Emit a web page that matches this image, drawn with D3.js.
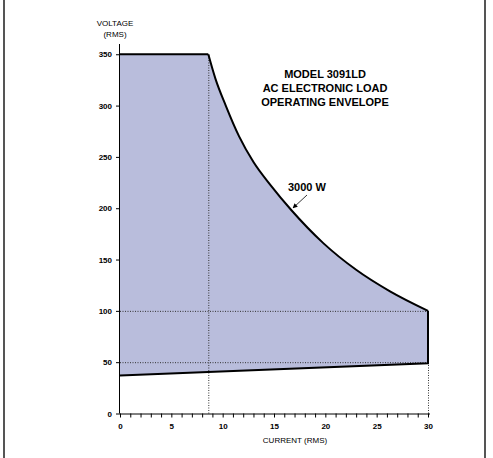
<!doctype html>
<html lang=en>
<head>
<meta charset=utf-8>
<title>Operating Envelope</title>
<script src="https://d3js.org/d3.v7.min.js"></script>
<style>
  body { margin: 0; background: #fff; }
  svg text { font-family: Arial, "Liberation Sans", sans-serif; fill: #000; }
</style>
</head>
<body>
<div id="container"></div>
<script>
    // data (current A rms, voltage V rms)
    var topLimit = [[0, 350], [8.6, 350]];
    var powerCurve = [[8.6, 350], [9.3, 326], [10.3, 300], [11.6, 270], [13.0, 245], [14.7, 222],
                      [16.7, 198], [19.8, 166], [23.0, 140], [26.3, 119], [30, 100]];
    var minVoltage = [[30, 49], [0, 37]];
    var xTicks = [0, 5, 10, 15, 20, 25, 30];
    var yTicks = [0, 50, 100, 150, 200, 250, 300, 350];
    var refVoltages = [50, 100];
    var refCurrents = [8.6, 30];
    var titleLines = ["MODEL 3091LD", "AC ELECTRONIC LOAD", "OPERATING ENVELOPE"];
    var powerLabel = "3000 W";

    var w = 493, h = 458;
    var svg = d3.select("#container").append("svg")
        .attr("width", w).attr("height", h);

    // frame (left and right edges only)
    svg.append("line").attr("x1", 4).attr("x2", 4).attr("y1", 0).attr("y2", h)
        .attr("stroke", "#555").attr("stroke-width", 2);
    svg.append("line").attr("x1", 485).attr("x2", 485).attr("y1", 0).attr("y2", h)
        .attr("stroke", "#555").attr("stroke-width", 2);

    var x = d3.scaleLinear().domain([0, 30]).range([120, 428]);
    var y = d3.scaleLinear().domain([0, 360]).range([413.5, 44]);

    var straight = d3.line().x(function(d) { return x(d[0]); }).y(function(d) { return y(d[1]); });
    var smooth = d3.line().x(function(d) { return x(d[0]); }).y(function(d) { return y(d[1]); })
        .curve(d3.curveMonotoneX);

    // envelope fill: flat top, power curve, current limit, min voltage line
    var fillPath = straight(topLimit) + smooth(powerCurve).replace(/^M/, "L")
        + straight(minVoltage).replace(/^M/, "L") + "Z";
    svg.append("path").attr("d", fillPath).attr("fill", "#b9bddc");

    // dotted reference lines
    var dots = svg.append("g").attr("stroke", "#333").attr("stroke-width", 1)
        .attr("stroke-dasharray", "1,1.5");
    refVoltages.forEach(function(v) {
        dots.append("line").attr("x1", x(0)).attr("x2", x(30))
            .attr("y1", y(v) + 0.5).attr("y2", y(v) + 0.5);
    });
    dots.append("line").attr("x1", x(refCurrents[0]) + 0.5).attr("x2", x(refCurrents[0]) + 0.5)
        .attr("y1", y(0)).attr("y2", y(topLimit[1][1]));
    dots.append("line").attr("x1", x(refCurrents[1]) + 0.5).attr("x2", x(refCurrents[1]) + 0.5)
        .attr("y1", y(0)).attr("y2", y(minVoltage[0][1]));

    // envelope outline
    var outline = svg.append("g").attr("fill", "none").attr("stroke", "#000").attr("stroke-width", 2);
    outline.append("path").attr("d", straight(topLimit));
    outline.append("path").attr("d", smooth(powerCurve));
    outline.append("path").attr("d", straight([powerCurve[powerCurve.length - 1]].concat(minVoltage)));

    // axes
    var xAxis = d3.axisBottom(x).tickValues(d3.range(0, 31, 1)).tickSize(4)
        .tickFormat(function(d) { return xTicks.indexOf(d) >= 0 ? d : ""; });
    var gx = svg.append("g").attr("transform", "translate(0," + y(0) + ")").call(xAxis);
    gx.select(".domain").attr("d", "M" + x(0) + ",0.5H" + (x(30) + 2));
    gx.selectAll("text").attr("font-size", 8).attr("dy", "1.05em").attr("font-weight", "bold");

    var yAxis = d3.axisLeft(y).tickValues(yTicks).tickSize(4).tickPadding(4);
    var gy = svg.append("g").attr("transform", "translate(" + x(0) + ",0)").call(yAxis);
    gy.select(".domain").attr("d", "M-0.5," + y(0) + "V" + y(360));
    gy.selectAll("text").attr("font-size", 8).attr("font-weight", "bold");
    svg.selectAll(".domain").attr("stroke", "#000");
    svg.selectAll(".tick line").attr("stroke", "#000");

    // axis titles
    svg.append("text").attr("x", 115).attr("y", 26).attr("text-anchor", "middle")
        .attr("font-size", 8).text("VOLTAGE");
    svg.append("text").attr("x", 115).attr("y", 37).attr("text-anchor", "middle")
        .attr("font-size", 8).text("(RMS)");
    svg.append("text").attr("x", 295).attr("y", 443).attr("text-anchor", "middle")
        .attr("font-size", 8).text("CURRENT (RMS)");

    // chart title
    svg.selectAll(".title").data(titleLines).enter().append("text")
        .attr("class", "title")
        .attr("x", 325).attr("y", function(d, i) { return 78 + i * 14; })
        .attr("text-anchor", "middle").attr("font-size", 11).attr("font-weight", "bold")
        .text(function(d) { return d; });

    // power annotation
    svg.append("defs").append("marker").attr("id", "arr")
        .attr("viewBox", "0 0 10 10").attr("refX", 9).attr("refY", 5)
        .attr("markerWidth", 6).attr("markerHeight", 6).attr("orient", "auto")
        .append("path").attr("d", "M0,0L10,5L0,10Z").attr("fill", "#000");
    svg.append("text").attr("x", 288).attr("y", 191)
        .attr("font-size", 11).attr("font-weight", "bold").text(powerLabel);
    svg.append("line").attr("x1", 307).attr("y1", 195).attr("x2", 293).attr("y2", 208)
        .attr("stroke", "#000").attr("stroke-width", 0.8).attr("marker-end", "url(#arr)");
</script>
</body>
</html>
